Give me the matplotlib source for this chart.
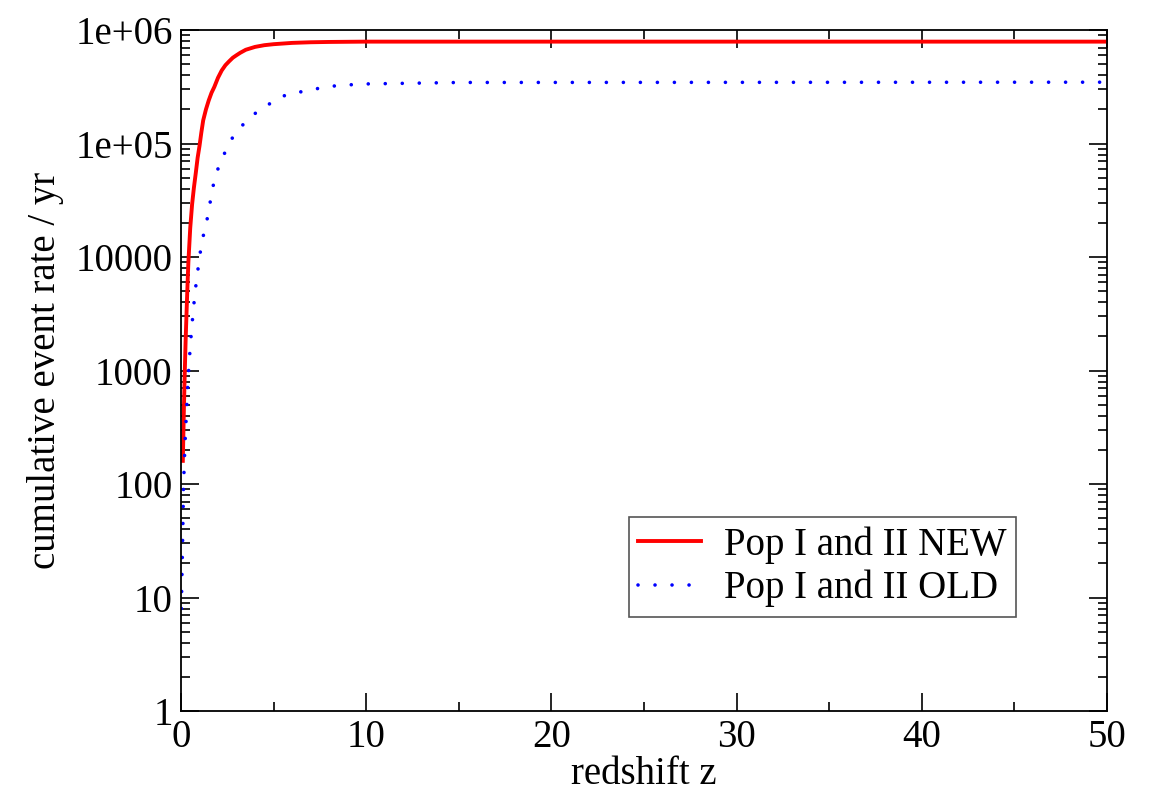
import matplotlib
matplotlib.use("Agg")
import matplotlib.pyplot as plt
import matplotlib.ticker as mticker
import numpy as np

# values
z_new = [0.1, 0.15, 0.2, 0.25, 0.3, 0.35, 0.4, 0.5, 0.6, 0.7, 0.8, 0.9, 1.0, 1.1,
         1.2, 1.35, 1.5, 1.65, 1.8, 2.0, 2.2, 2.4, 2.6, 2.8, 3.0, 3.2, 3.5, 4.0, 4.5,
         5.0, 6.0, 7.0, 8.0, 10.0, 20.0, 50.0]
rate_new = [160, 400, 900, 1800, 3200, 5500, 9000, 1.8e4, 2.9e4, 4.1e4, 5.5e4, 7.5e4, 9.5e4, 1.25e5,
            1.6e5, 2.0e5, 2.4e5, 2.8e5, 3.15e5, 3.8e5, 4.4e5, 4.9e5, 5.3e5, 5.7e5, 6.0e5, 6.3e5, 6.7e5, 7.1e5, 7.35e5,
            7.5e5, 7.7e5, 7.8e5, 7.85e5, 7.9e5, 7.9e5, 7.9e5]

z_old = [0.02, 0.1, 0.14, 0.18, 0.21, 0.25, 0.3, 0.34, 0.39, 0.45, 0.52, 0.6, 0.68,
         0.78, 0.9, 1.02, 1.19, 1.4, 1.57, 1.73, 2.0, 2.38, 2.8, 3.4, 4.1, 4.9, 5.7,
         6.7, 7.6, 8.5, 10.0, 15.0, 50.0]
rate_old = [8, 40, 100, 150, 210, 300, 430, 610, 870, 1230, 1780, 2570, 3600,
            5200, 7400, 1.05e4, 1.5e4, 2.1e4, 3.0e4, 4.2e4, 6.0e4, 8.4e4, 1.14e5, 1.5e5, 1.9e5, 2.3e5, 2.7e5,
            2.9e5, 3.1e5, 3.25e5, 3.35e5, 3.45e5, 3.47e5]

y_ticks = [1, 10, 100, 1000, 10000, 1e5, 1e6]
y_tick_labels = ["1", "10", "100", "1000", "10000", "1e+05", "1e+06"]
x_ticks = [0, 10, 20, 30, 40, 50]

plt.rcParams["font.family"] = ["Liberation Serif", "DejaVu Serif"]
plt.rcParams["font.size"] = 28

fig = plt.figure(figsize=(11.49, 7.94), dpi=100)
ax = fig.add_axes([0.1575, 0.1045, 0.806, 0.8577])

ax.plot(z_new, rate_new, color="#ff0000", linewidth=2.8, label="Pop I and II NEW")
ax.plot(z_old, rate_old, color="#0000ff", linewidth=2.6, linestyle=(0, (0.01, 4.7)),
        dash_capstyle="round", label="Pop I and II OLD")

ax.set_yscale("log")
ax.set_xlim(0, 50)
ax.set_ylim(1, 1e6)
ax.set_yticks(y_ticks)
ax.set_yticklabels(y_tick_labels)
ax.yaxis.set_minor_locator(mticker.LogLocator(base=10, subs=np.arange(2, 10)))
ax.yaxis.set_minor_formatter(mticker.NullFormatter())
ax.set_xticks(x_ticks)
ax.xaxis.set_minor_locator(mticker.MultipleLocator(5))

ax.tick_params(which="major", direction="in", length=13, width=1.2, top=True, right=True, pad=6)
ax.tick_params(which="minor", direction="in", length=6.5, width=1.2, top=True, right=True)
for sp in ax.spines.values():
    sp.set_linewidth(1.3)

ax.set_xlabel("redshift z", labelpad=0)
ax.set_ylabel("cumulative event rate / yr", labelpad=8)

leg = ax.legend(loc="lower right", bbox_to_anchor=(0.902, 0.138), fancybox=False,
                edgecolor="#555555", framealpha=1, handlelength=1.6, handletextpad=0.6,
                borderpad=0.25, labelspacing=0.15, borderaxespad=0, fontsize=28)
leg.get_frame().set_linewidth(1.2)

fig.savefig("out.png", dpi=100)
